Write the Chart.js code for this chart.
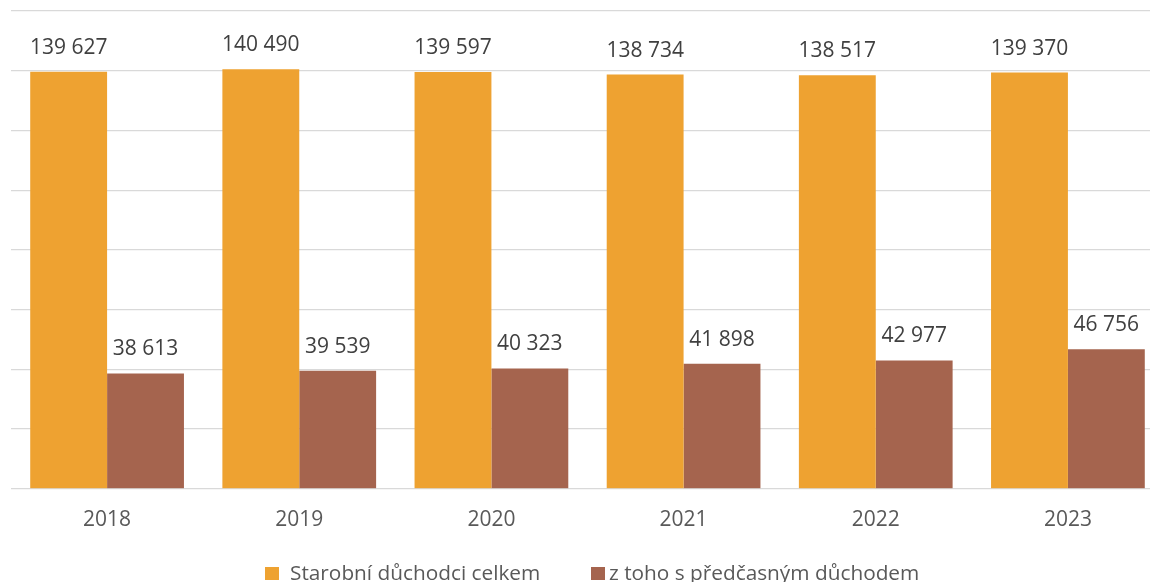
<!DOCTYPE html>
<html>
<head>
<meta charset="utf-8">
<script src="https://cdn.jsdelivr.net/npm/chart.js@4.4.1/dist/chart.umd.min.js"></script>
<style>
  html, body { margin: 0; padding: 0; background: #fff; overflow: hidden; }
  #wrap { position: relative; width: 1170px; height: 582px; }
</style>
</head>
<body>
<div id="wrap"><canvas id="chart"></canvas></div>
<script>
// chart data
const years = ['2018', '2019', '2020', '2021', '2022', '2023'];
const seriesNames = ['Starobní důchodci celkem', 'z toho s předčasným důchodem'];
const totalPensioners = [139627, 140490, 139597, 138734, 138517, 139370];
const earlyPensioners = [38613, 39539, 40323, 41898, 42977, 46756];
const yTicks = [0, 20000, 40000, 60000, 80000, 100000, 120000, 140000, 160000];

const colors = ['#EEA231', '#A5644E'];
const FONT = '"Open Sans", "Noto Sans", sans-serif';

// "139 627" style
function fmt(v) {
    return String(v).replace(/\B(?=(\d{3})+(?!\d))/g, ' ');
}

// values above each bar
const valueLabels = {
    id: 'valueLabels',
    afterDatasetsDraw(chart) {
        const ctx = chart.ctx;
        ctx.save();
        ctx.font = '21px ' + FONT;
        ctx.fillStyle = '#404040';
        ctx.textAlign = 'center';
        ctx.textBaseline = 'alphabetic';
        chart.data.datasets.forEach((ds, i) => {
            chart.getDatasetMeta(i).data.forEach((bar, j) => {
                ctx.fillText(fmt(ds.data[j]), bar.x, bar.y - 18);
            });
        });
        ctx.restore();
    }
};

// legend under the axis, placed like in the original
const bottomLegend = {
    id: 'bottomLegend',
    afterDraw(chart) {
        const ctx = chart.ctx;
        const boxX = [265, 591];
        const textX = [290, 609];
        const base = 580;
        ctx.save();
        ctx.font = '20.8px ' + FONT;
        ctx.textBaseline = 'alphabetic';
        ctx.textAlign = 'left';
        chart.data.datasets.forEach((ds, i) => {
            ctx.fillStyle = ds.backgroundColor;
            ctx.fillRect(boxX[i], base - 13, 14, 13);
            ctx.fillStyle = '#595959';
            ctx.fillText(ds.label, textX[i], base);
        });
        ctx.restore();
    }
};

new Chart(document.getElementById('chart'), {
    type: 'bar',
    data: {
        labels: years,
        datasets: [
            { label: seriesNames[0], data: totalPensioners, backgroundColor: colors[0] },
            { label: seriesNames[1], data: earlyPensioners, backgroundColor: colors[1] }
        ]
    },
    options: {
        responsive: true,
        maintainAspectRatio: false,
        animation: false,
        categoryPercentage: 0.8,
        barPercentage: 1.0,
        layout: { padding: { top: 11, left: 11, right: 6, bottom: 30 } },
        plugins: {
            legend: { display: false },
            tooltip: { enabled: false }
        },
        scales: {
            x: {
                grid: { display: false, drawTicks: false },
                border: { display: false },
                ticks: {
                    color: '#595959',
                    font: { family: FONT, size: 21 },
                    padding: 19
                }
            },
            y: {
                min: yTicks[0],
                max: yTicks[yTicks.length - 1],
                afterBuildTicks(axis) {
                    axis.ticks = yTicks.map(v => ({ value: v }));
                },
                grid: { color: '#d9d9d9', lineWidth: 1.3, drawTicks: false },
                border: { display: false },
                ticks: { display: false }
            }
        }
    },
    plugins: [valueLabels, bottomLegend]
});
</script>
</body>
</html>
